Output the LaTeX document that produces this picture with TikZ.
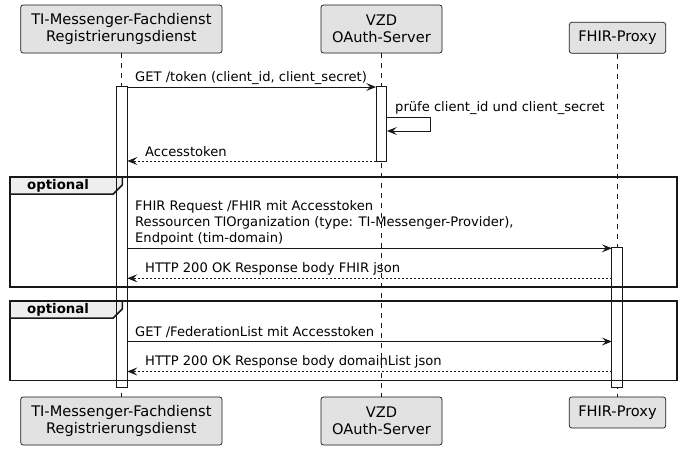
\documentclass[tikz,border=0pt]{standalone}
\usepackage{fontspec}
\setmainfont{DejaVu Sans}
\usetikzlibrary{arrows.meta}
\definecolor{pfill}{HTML}{E2E2E2}
\definecolor{pline}{HTML}{181818}
\definecolor{tabfill}{HTML}{EEEEEE}
\begin{document}
\begin{tikzpicture}[x=1pt,y=-1pt,
  part/.style={draw=pline, fill=pfill, rounded corners=2.5pt, line width=0.7pt,
    align=center, inner sep=0pt, font=\fontsize{14.6}{17}\selectfont},
  lifeline/.style={draw=pline, line width=0.5pt, dash pattern=on 5pt off 5pt},
  actfill/.style={fill=white, draw=none, inner sep=0pt, minimum width=10.5pt},
  actline/.style={draw=pline, line width=1pt},
  msg/.style={draw=pline, line width=1pt, -{Stealth[length=10pt,width=8pt,inset=4pt]}},
  reply/.style={msg, dash pattern=on 2pt off 2pt},
  lbl/.style={anchor=west, inner sep=0pt, font=\fontsize{13.1}{16}\selectfont},
  framebox/.style={draw=pline, line width=1.5pt},
  tab/.style={draw=pline, line width=1.5pt, fill=tabfill},
  tablbl/.style={anchor=west, inner sep=0pt, font=\bfseries\fontsize{13.3}{16}\selectfont}
]
\useasboundingbox (0,0) rectangle (681,450);

% participants
\node[part, minimum width=201.3pt, minimum height=48pt] (aTop) at (121.4,29) {TI-Messenger-Fachdienst\\Registrierungsdienst};
\node[part, minimum width=121pt, minimum height=48pt] (vTop) at (381.5,29) {VZD\\OAuth-Server};
\node[part, minimum width=96.4pt, minimum height=31pt] (fTop) at (617.5,37.8) {FHIR-Proxy};
\node[part, minimum width=201.3pt, minimum height=48pt] (aBot) at (121.4,421) {TI-Messenger-Fachdienst\\Registrierungsdienst};
\node[part, minimum width=121pt, minimum height=48pt] (vBot) at (381.5,421) {VZD\\OAuth-Server};
\node[part, minimum width=96.4pt, minimum height=31pt] (fBot) at (617.5,412.5) {FHIR-Proxy};

% lifelines
\draw[lifeline] (aTop.south) -- (aBot.north);
\draw[lifeline] (vTop.south) -- (vBot.north);
\draw[lifeline] (fTop.south) -- (fBot.north);

% activation fills
\node[actfill, minimum height=300pt] (actA) at (121.9,237) {};
\node[actfill, minimum height=74pt] (actV) at (381.5,124) {};
\node[actfill, minimum height=139pt] (actF) at (617.3,317.5) {};

% frames
\draw[framebox] (10,177) rectangle (677,287);
\draw[tab] (10,177) -- (122.3,177) -- (122.3,185) -- (113.3,194) -- (10,194) -- cycle;
\node[tablbl] (opt1) at (27,185.5) {optional};
\draw[framebox] (10,301) rectangle (677,380.5);
\draw[tab] (10,301) -- (122.3,301) -- (122.3,309) -- (113.3,318) -- (10,318) -- cycle;
\node[tablbl] (opt2) at (27,309.5) {optional};

% activation outlines
\draw[actline] (actA.north west) rectangle (actA.south east);
\draw[actline] (actV.north west) rectangle (actV.south east);
\draw[actline] (actF.north west) rectangle (actF.south east);

% message anchors
\coordinate (m1) at (0,87);
\coordinate (s1) at (0,117);
\coordinate (s2) at (0,131);
\coordinate (r1) at (0,161);
\coordinate (m2) at (0,248.3);
\coordinate (r2) at (0,278.3);
\coordinate (m3) at (0,341.5);
\coordinate (r3) at (0,371.5);
\coordinate (selfx) at (430.5,0);

% messages
\node[lbl] (t1) at (135,78) {GET /token (client\_id, client\_secret)};
\draw[msg] (actA.east |- m1) -- (actV.west |- m1);

\node[lbl] (t2) at (395,108) {prüfe client\_id und client\_secret};
\draw[msg] (actV.east |- s1) -- (selfx |- s1) -- (selfx |- s2) -- (actV.east |- s2);

\node[lbl] (t3) at (145,152) {Accesstoken};
\draw[reply] (actV.west |- r1) -- (actA.east |- r1);

\node[lbl, align=left, font=\fontsize{13.1}{16}\selectfont] (t4) at (135,223) {FHIR Request /FHIR mit Accesstoken\\Ressourcen TIOrganization (type: TI-Messenger-Provider),\\Endpoint (tim-domain)};
\draw[msg] (actA.east |- m2) -- (actF.west |- m2);

\node[lbl] (t5) at (145,269) {HTTP 200 OK Response body FHIR json};
\draw[reply] (actF.west |- r2) -- (actA.east |- r2);

\node[lbl] (t6) at (135,332) {GET /FederationList mit Accesstoken};
\draw[msg] (actA.east |- m3) -- (actF.west |- m3);

\node[lbl] (t7) at (145,362) {HTTP 200 OK Response body domainList json};
\draw[reply] (actF.west |- r3) -- (actA.east |- r3);
\end{tikzpicture}
\end{document}
